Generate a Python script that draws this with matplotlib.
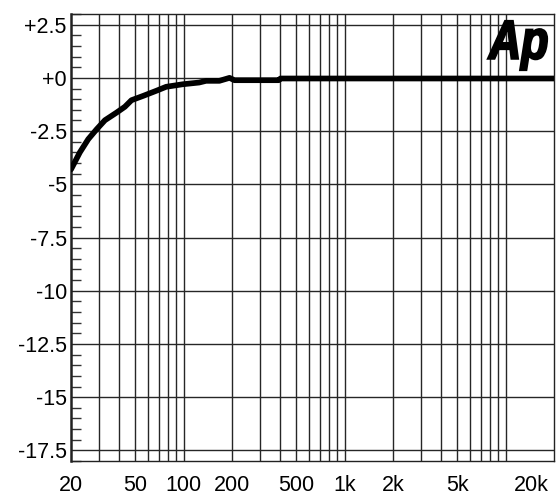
import numpy as np
import matplotlib
matplotlib.use('Agg')
import matplotlib.pyplot as plt
import matplotlib.transforms as mtransforms
from matplotlib.textpath import TextPath
from matplotlib.patches import PathPatch
from matplotlib.font_manager import FontProperties

# frequency response
freq = [20, 22.7, 25.6, 28.9, 32.5, 38.4, 43.2, 47.5, 56, 67.6, 78, 99,
        125, 138, 167, 193, 207, 390, 400, 20000]
level = [-4.3, -3.5, -2.88, -2.41, -1.99, -1.63, -1.36, -1.05, -0.85, -0.61,
         -0.42, -0.30, -0.22, -0.14, -0.14, 0.0, -0.11, -0.11, -0.03, -0.03]

y_ticks = [-17.5, -15, -12.5, -10, -7.5, -5, -2.5, 0, 2.5]
y_labels = ['-17.5', '-15', '-12.5', '-10', '-7.5', '-5', '-2.5', '+0', '+2.5']
x_ticks = [20, 50, 100, 200, 500, 1000, 2000, 5000, 20000]
x_labels = ['20', '50', '100', '200', '500', '1k', '2k', '5k', '20k']

plt.rcParams['font.family'] = ['Liberation Sans', 'DejaVu Sans']

W, H = 559, 496
fig = plt.figure(figsize=(W / 100, H / 100), dpi=100)
ax = fig.add_axes([71 / W, 35 / H, 483 / W, 447 / H])

ax.set_xscale('log')
ax.set_xlim(20, 20000)
ax.set_ylim(-18, 3)

# grid: every 1-2-3...9 per decade, and every 2.5 dB
grid_f = [m * 10 ** e for e in range(1, 5) for m in range(1, 10)]
for f in grid_f:
    if 20 < f < 20000:
        ax.axvline(f, color='#262626', lw=1.0, zorder=1)
for v in y_ticks:
    ax.axhline(v, color='#262626', lw=1.0, zorder=1)

ax.plot(freq, level, color='black', lw=4.1, solid_capstyle='round',
        solid_joinstyle='round', zorder=3)

ax.set_yticks(y_ticks)
ax.set_yticklabels(y_labels)
ax.set_yticks(np.arange(-18, 3.01, 0.5), minor=True)
ax.tick_params(axis='y', which='major', length=0, pad=3, labelsize=15.5)
ax.tick_params(axis='y', which='minor', direction='in', length=7, width=1.0,
               color='#333333')

ax.set_xticks(x_ticks)
ax.set_xticklabels(x_labels)
ax.xaxis.set_minor_locator(matplotlib.ticker.NullLocator())
ax.tick_params(axis='x', which='major', length=0, pad=10, labelsize=15.5)
last = ax.get_xticklabels()[-1]
last.set_horizontalalignment('right')
last.set_transform(last.get_transform() +
                   mtransforms.ScaledTranslation(-5 / 100, 0, fig.dpi_scale_trans))

for s in ax.spines.values():
    s.set_color('#222222')
    s.set_linewidth(1.0)
ax.spines['left'].set_linewidth(1.8)

# Audio Precision logo, squeezed into its box (pixels, origin top-left)
logo = TextPath((0, 0), 'Ap', size=1,
                prop=FontProperties(family='Liberation Sans', weight='bold',
                                    style='italic'))
ext = logo.get_extents()
x0, x1, top, bot = 488, 547, 21, 70
sx = (x1 - x0) / ext.width
sy = (bot - top) / ext.height
tr = (mtransforms.Affine2D().translate(-ext.x0, -ext.y0).scale(sx, sy)
      .translate(x0, H - bot))
fig.patches.append(PathPatch(logo, transform=tr, facecolor='black',
                             edgecolor='black', lw=1.6, zorder=5))

fig.savefig('out.png', dpi=100)
